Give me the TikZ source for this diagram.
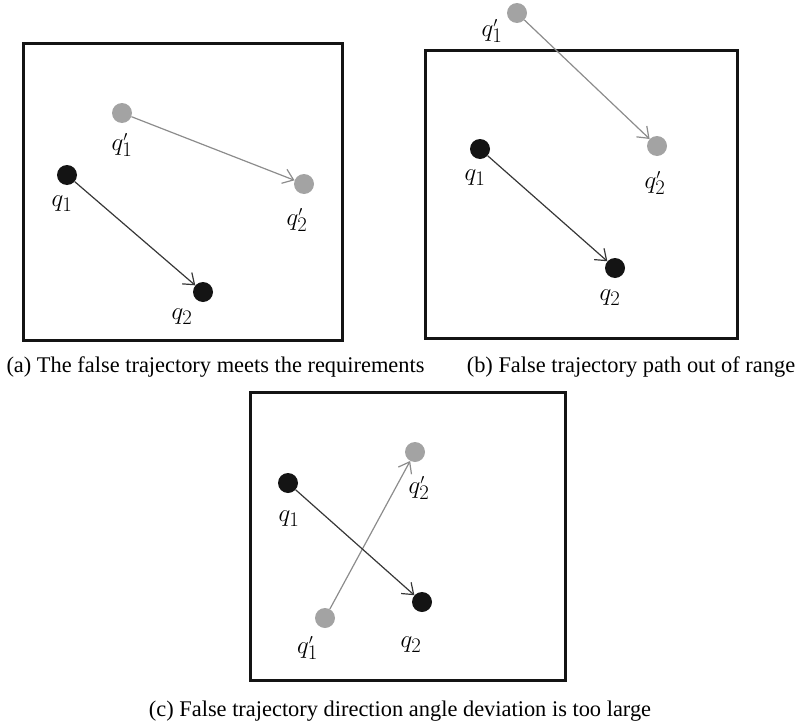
\documentclass[tikz,border=0pt]{standalone}
\usepackage{fontspec}
\setmainfont{Liberation Serif}
\usetikzlibrary{arrows.meta}
\definecolor{ptgray}{HTML}{A3A3A3}
\definecolor{lngray}{HTML}{8C8C8C}
\definecolor{ptblack}{HTML}{141414}
\newcommand{\qp}[1]{$q_{#1}^{\scriptscriptstyle\prime}$}
\newcommand{\qn}[1]{$q_{#1}$}
\begin{document}
\begin{tikzpicture}[x=1pt,y=-1pt,
  frame/.style={draw=ptblack,line width=3pt},
  bpt/.style={circle,fill=ptblack,inner sep=0pt,minimum size=20pt},
  gpt/.style={circle,fill=ptgray,inner sep=0pt,minimum size=20pt},
  lbl/.style={inner sep=0pt,font=\fontsize{31}{33}\selectfont},
  captxt/.style={inner sep=0pt,font=\fontsize{22.4}{24}\selectfont},
  barrow/.style={draw=ptblack!85,line width=1.2pt,-{Straight Barb[length=10pt,width=15pt,line width=1.2pt]},shorten >=0pt},
  garrow/.style={draw=lngray,line width=1.2pt,-{Straight Barb[length=10pt,width=15pt,line width=1.2pt]},shorten >=0pt}]
\useasboundingbox (0,0) rectangle (801,728);
% panel (a)
\draw[frame] (23,43) rectangle (342,340);
\node[gpt] (a1g) at (122,113) {};
\node[gpt] (a2g) at (304,184) {};
\node[bpt] (a1b) at (67,175) {};
\node[bpt] (a2b) at (203,292) {};
\draw[garrow] (a1g) -- (a2g);
\draw[barrow] (a1b) -- (a2b);
\node[lbl] (la1g) at (122,145) {\qp{1}};
\node[lbl] (la2g) at (297,220) {\qp{2}};
\node[lbl] (la1b) at (62,204) {\qn{1}};
\node[lbl] (la2b) at (182,317) {\qn{2}};
\node[captxt] (capa) at (215.5,367) {(a) The false trajectory meets the requirements};
% panel (b)
\draw[frame] (425,50) rectangle (737,338);
\node[gpt] (b1g) at (517,13) {};
\node[gpt] (b2g) at (657,146) {};
\node[bpt] (b1b) at (480,149) {};
\node[bpt] (b2b) at (615,268) {};
\draw[garrow] (b1g) -- (b2g);
\draw[barrow] (b1b) -- (b2b);
\node[lbl] (lb1g) at (492,31) {\qp{1}};
\node[lbl] (lb2g) at (655,183) {\qp{2}};
\node[lbl] (lb1b) at (475,178) {\qn{1}};
\node[lbl] (lb2b) at (610,298) {\qn{2}};
\node[captxt] (capb) at (631,367) {(b) False trajectory path out of range};
% panel (c)
\draw[frame] (250,392) rectangle (565,680);
\node[bpt] (c1b) at (288,483) {};
\node[bpt] (c2b) at (422,602) {};
\node[gpt] (c1g) at (325,618) {};
\node[gpt] (c2g) at (415,452) {};
\draw[garrow] (c1g) -- (c2g);
\draw[barrow] (c1b) -- (c2b);
\node[lbl] (lc2g) at (419,488) {\qp{2}};
\node[lbl] (lc1b) at (289,519) {\qn{1}};
\node[lbl] (lc1g) at (307.5,648) {\qp{1}};
\node[lbl] (lc2b) at (411,645) {\qn{2}};
\node[captxt] (capc) at (400,711.5) {(c) False trajectory direction angle deviation is too large};
\end{tikzpicture}
\end{document}
